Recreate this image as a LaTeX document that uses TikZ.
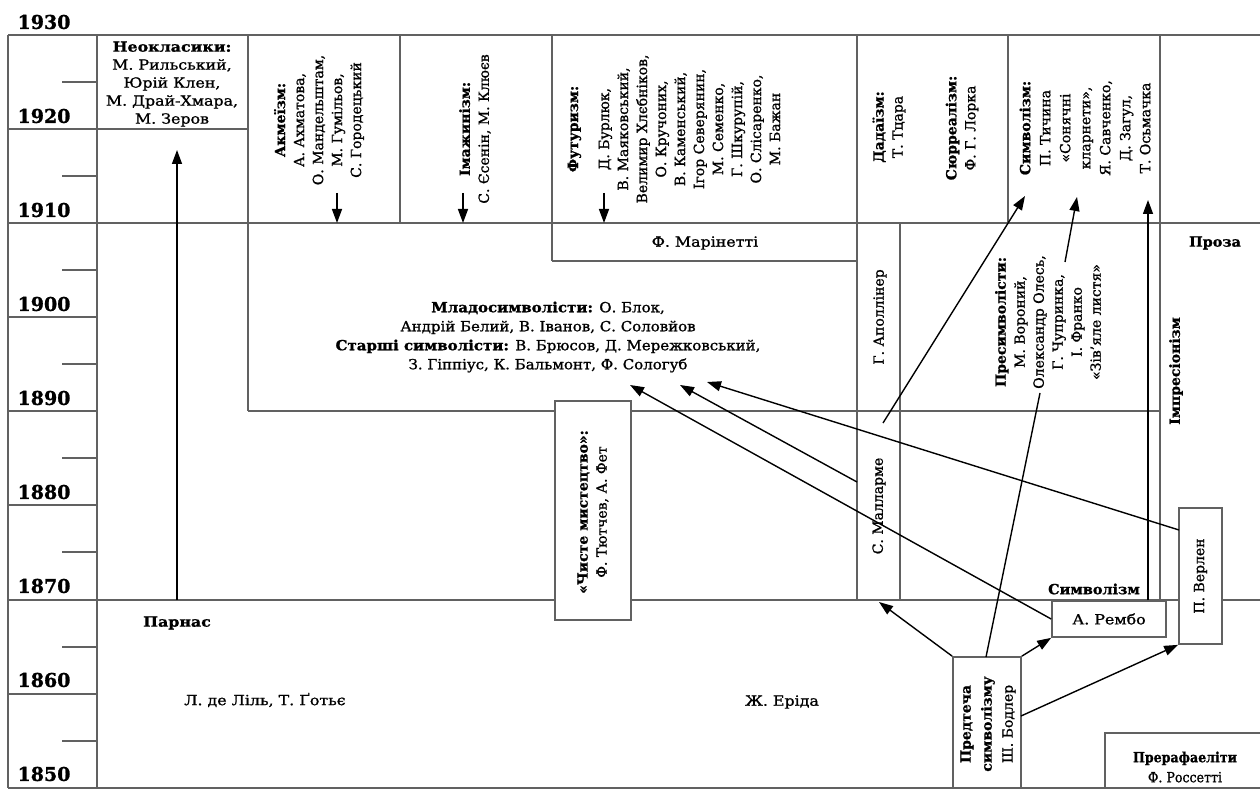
\documentclass[tikz,border=0pt]{standalone}
\usepackage{fontspec}
\setmainfont{DejaVu Serif}[FakeBold=1.1]
\usetikzlibrary{arrows.meta}
\begin{document}
\begin{tikzpicture}[x=1pt,y=-1pt,
  grid/.style={line width=1.7pt, draw=black!62},
  arr/.style={line width=1.4pt, -{Triangle[length=14pt,width=10pt]}},
  lne/.style={line width=1.4pt},
  txt/.style={font=\fontsize{14}{19}\selectfont, align=center, inner sep=0pt},
  htxt/.style={txt, xscale=1.13},
  vtxt/.style={txt, rotate=90},
  box/.style={draw=black!62, line width=1.7pt, fill=white, inner sep=0pt},
  year/.style={font=\fontsize{19}{19}\selectfont\bfseries, inner sep=0pt},
]
\useasboundingbox (0,0) rectangle (1260,791);
% ---- grid ----
\draw[grid] (8,35) -- (1262,35);
\draw[grid] (8,129) -- (248,129);
\draw[grid] (8,223) -- (1262,223);
\draw[grid] (552,261) -- (857,261);
\draw[grid] (8,317) -- (97,317);
\draw[grid] (8,411) -- (97,411);
\draw[grid] (248,411) -- (1160,411);
\draw[grid] (8,505) -- (97,505);
\draw[grid] (8,600) -- (1262,600);
\draw[grid] (8,694) -- (97,694);
\draw[grid] (8,788) -- (1262,788);
\draw[grid] (8,35) -- (8,788);
\draw[grid] (97,35) -- (97,788);
\draw[grid] (248,35) -- (248,411);
\draw[grid] (400,35) -- (400,223);
\draw[grid] (552,35) -- (552,261);
\draw[grid] (857,35) -- (857,600);
\draw[grid] (900,223) -- (900,600);
\draw[grid] (1008,35) -- (1008,223);
\draw[grid] (1160,35) -- (1160,600);
\foreach \t in {82,176,270,364,458,552,647,741} \draw[grid] (62,\t) -- (97,\t);
% ---- years ----
\node[year] (y1930) at (44,22) {1930};
\node[year] (y1920) at (44,116) {1920};
\node[year] (y1910) at (44,210) {1910};
\node[year] (y1900) at (44,304) {1900};
\node[year] (y1890) at (44,398) {1890};
\node[year] (y1880) at (44,492) {1880};
\node[year] (y1870) at (44,586) {1870};
\node[year] (y1860) at (44,680) {1860};
\node[year] (y1850) at (44,774) {1850};
% ---- top row texts ----
\node[htxt, font=\fontsize{14}{18}\selectfont] (neo) at (172,84) {\textbf{Неокласики:}\\М. Рильський,\\Юрій Клен,\\М. Драй-Хмара,\\М. Зеров};
\node[vtxt] (akm) at (319,120) {\textbf{Акмеїзм:}\\А. Ахматова,\\О. Мандельштам,\\М. Гумільов,\\С. Городецький};
\node[vtxt] (imazh) at (475,129) {\textbf{Імажинізм:}\\С. Єсенін, М. Клюєв};
\node[vtxt] (fut) at (674,129) {\textbf{Футуризм:}\\[12pt]Д. Бурлюк,\\В. Маяковський,\\Велимир Хлєбніков,\\О. Кручоних,\\В. Каменський,\\Ігор Северянин,\\М. Семенко,\\Г. Шкурупій,\\О. Слісаренко,\\М. Бажан};
\node[vtxt] (dada) at (889,127) {\textbf{Дадаїзм:}\\Т. Тцара};
\node[vtxt] (surr) at (962,128) {\textbf{Сюрреалізм:}\\Ф. Г. Лорка};
\node[vtxt, font=\fontsize{14}{20}\selectfont] (symb) at (1085,128) {\textbf{Символізм:}\\П. Тичина\\«Сонячні\\кларнети»,\\Я. Савченко,\\Д. Загул,\\Т. Осьмачка};
% ---- middle ----
\node[htxt] (marin) at (705,243) {Ф. Марінетті};
\node[txt, xscale=1.07] (mlado) at (548,337) {\textbf{Младосимволісти:} О. Блок,\\Андрій Белий, В. Іванов, С. Соловйов\\\textbf{Старші символісти:} В. Брюсов, Д. Мережковський,\\З. Гіппіус, К. Бальмонт, Ф. Сологуб};
\node[vtxt] (apol) at (880,317) {Г. Аполлінер};
\node[vtxt] (mal) at (879,506) {С. Малларме};
\node[vtxt] (presym) at (1048,322) {\textbf{Пресимволісти:}\\М. Вороний,\\Олександр Олесь,\\Г. Чупринка,\\І. Франко\\«Зів'яле листя»};
\node[vtxt] (impr) at (1176,371) {\textbf{Імпресіонізм}};
\node[txt, xscale=1.03] (proza) at (1215,243) {\textbf{Проза}};
\node[txt, xscale=1.03] (symlab) at (1094,589) {\textbf{Символізм}};
% ---- bottom ----
\node[htxt] (parnas) at (177,623) {\textbf{Парнас}};
\node[htxt] (lisle) at (265,700) {Л. де Ліль, Т. Ґотьє};
\node[htxt] (erida) at (782,702) {Ж. Еріда};
% ---- boxes ----
\node[box, minimum width=76pt, minimum height=219pt] (chiste) at (593,510.5) {};
\node[vtxt] (chistet) at (593,512) {\textbf{«Чисте мистецтво»:}\\Ф. Тютчев, А. Фет};
\node[box, minimum width=114pt, minimum height=36pt] (rembo) at (1109,619) {};
\node[htxt] (rembot) at (1109,619) {А. Рембо};
\node[box, minimum width=43pt, minimum height=136pt] (verlen) at (1200.5,576) {};
\node[vtxt] (verlent) at (1200.5,576) {П. Верлен};
\node[box, minimum width=68pt, minimum height=131pt] (baud) at (987,722.5) {};
\node[vtxt, font=\fontsize{14}{21}\selectfont] (baudt) at (988,724) {\textbf{Предтеча}\\\textbf{символізму}\\Ш. Бодлер};
\node[box, minimum width=165pt, minimum height=55pt] (preraf) at (1187.5,760.5) {};
\node[txt, xscale=0.9, font=\fontsize{14}{20}\selectfont] (preraft) at (1185,767) {\textbf{Прерафаеліти}\\Ф. Россетті};
% ---- coordinates ----
\coordinate (parnasTop) at (177,600);
\coordinate (neoTip) at (177,150);
\coordinate (akmS) at (337,193);  \coordinate (akmE) at (337,223);
\coordinate (imS) at (463,193);   \coordinate (imE) at (463,223);
\coordinate (futS) at (604,193);  \coordinate (futE) at (604,223);
\coordinate (malOut) at (883,423);
\coordinate (symTipA) at (1025,196);
\coordinate (chupEnd) at (1065,262);
\coordinate (symTipB) at (1077,197);
\coordinate (remboTop) at (1148,600);
\coordinate (symTipC) at (1148,200);
\coordinate (mladoA) at (630,385);
\coordinate (malLeft) at (857,482);
\coordinate (mladoB) at (680,385);
\coordinate (verlenL) at (1179,530);
\coordinate (mladoC) at (707,382);
\coordinate (malBot) at (879,602);
\coordinate (baudTop) at (986,657);
\coordinate (olesEnd) at (1040,393);
\coordinate (baudR) at (1021,716);
% ---- connectors ----
\draw[arr] (parnasTop) -- (neoTip);
\draw[arr] (akmS) -- (akmE);
\draw[arr] (imS) -- (imE);
\draw[arr] (futS) -- (futE);
\draw[arr] (malOut) -- (symTipA);
\draw[arr] (chupEnd) -- (symTipB);
\draw[arr] (remboTop) -- (symTipC);
\draw[arr] (rembo.west) -- (mladoA);
\draw[arr] (malLeft) -- (mladoB);
\draw[arr] (verlenL) -- (mladoC);
\draw[arr] (baud.north west) -- (malBot);
\draw[arr] (baud.north east) -- (rembo.south west);
\draw[arr] (baudR) -- (verlen.south west);
\draw[lne] (baudTop) -- (olesEnd);
\end{tikzpicture}
\end{document}
